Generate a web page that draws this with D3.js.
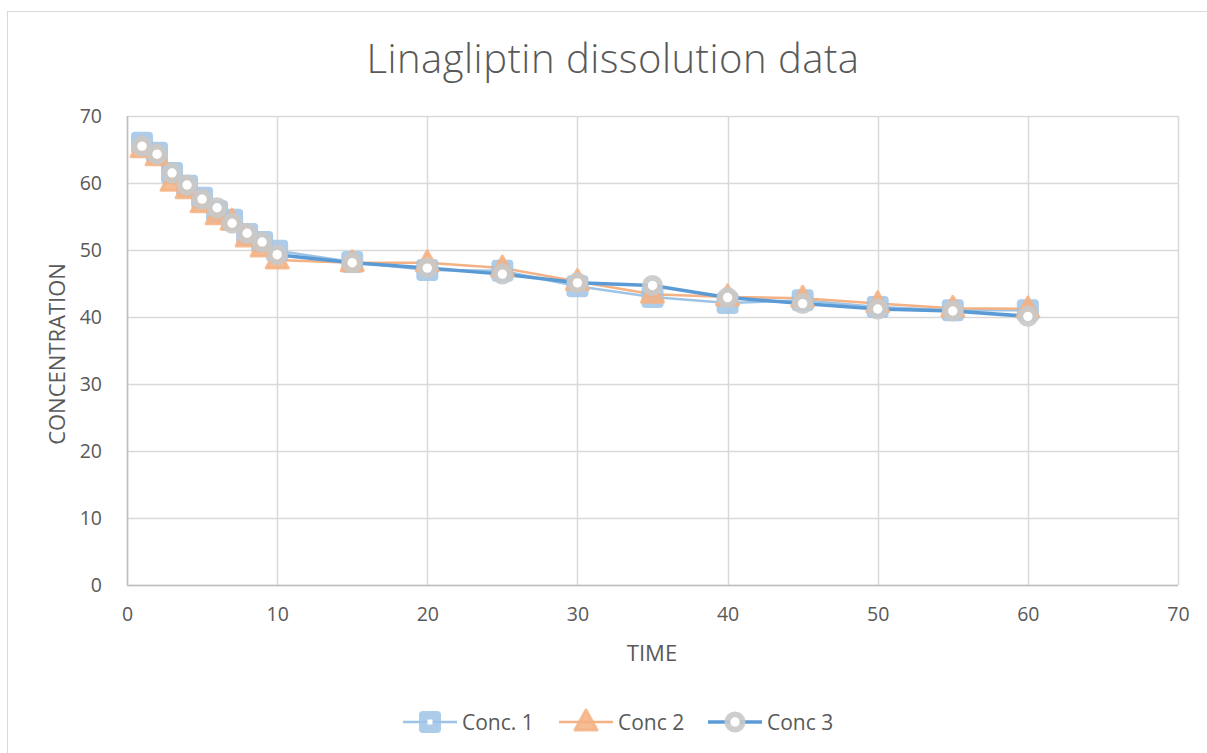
<!DOCTYPE html>
<html><head><meta charset="utf-8">
<script src="https://cdn.jsdelivr.net/npm/d3@7"></script>
<style>body{margin:0;background:#fff;}svg{display:block;font-family:"Open Sans","Noto Sans",sans-serif;}</style>
</head><body><svg id="c" width="1207" height="753"></svg>
<script>
const times = [1,2,3,4,5,6,7,8,9,10,15,20,25,30,35,40,45,50,55,60];
const conc1 = [66.0,64.5,61.5,59.6,57.8,55.8,54.5,52.4,51.2,49.9,48.2,47.0,46.9,44.6,43.0,42.1,42.5,41.5,41.0,41.0];
const conc2 = [65.1,63.9,60.1,59.0,56.9,55.1,54.3,51.8,50.3,48.5,48.1,48.1,47.3,45.3,43.4,43.0,42.8,42.0,41.3,41.2];
const conc3 = [65.5,64.3,61.5,59.7,57.6,56.3,54.0,52.5,51.2,49.3,48.1,47.3,46.4,45.1,44.7,42.9,42.0,41.2,40.9,40.1];
const seriesNames = ["Conc. 1","Conc 2","Conc 3"];
const xTicks = [0,10,20,30,40,50,60,70];
const yTicks = [0,10,20,30,40,50,60,70];

const svg = d3.select("#c");
const x = d3.scaleLinear().domain([0,70]).range([127,1178]);
const y = d3.scaleLinear().domain([0,70]).range([585,116]);
const txt = "#595959", grid = "#d9d9d9";

svg.append("rect").attr("x",7.5).attr("y",11.5).attr("width",1205).attr("height",760)
  .attr("fill","#fff").attr("stroke","#d9d9d9");

// grid
svg.append("g").selectAll("line").data(yTicks).join("line")
  .attr("x1",x(0)).attr("x2",x(70)).attr("y1",d=>Math.round(y(d))+0.5).attr("y2",d=>Math.round(y(d))+0.5)
  .attr("stroke",grid).attr("stroke-width",1.5);
svg.append("g").selectAll("line").data(xTicks).join("line")
  .attr("y1",y(0)).attr("y2",y(70)).attr("x1",d=>Math.round(x(d))+0.5).attr("x2",d=>Math.round(x(d))+0.5)
  .attr("stroke",grid).attr("stroke-width",1.5);
svg.append("line").attr("x1",x(0)).attr("x2",x(70)).attr("y1",y(0)+0.5).attr("y2",y(0)+0.5).attr("stroke","#bfbfbf").attr("stroke-width",1.5);
svg.append("line").attr("x1",x(0)+0.5).attr("x2",x(0)+0.5).attr("y1",y(0)).attr("y2",y(70)).attr("stroke","#bfbfbf").attr("stroke-width",1.5);

// axes via d3
const xAxis = svg.append("g").attr("transform",`translate(0,${y(0)})`)
  .call(d3.axisBottom(x).tickValues(xTicks).tickSize(0).tickPadding(22));
const yAxis = svg.append("g").attr("transform",`translate(${x(0)},0)`)
  .call(d3.axisLeft(y).tickValues(yTicks).tickSize(0).tickPadding(25));
[xAxis,yAxis].forEach(a=>{a.select(".domain").remove();
  a.selectAll("text").attr("fill",txt).attr("font-size",19.5).attr("font-family","'Open Sans',sans-serif");});

svg.append("text").attr("x",613).attr("y",73).attr("text-anchor","middle").attr("fill",txt)
  .attr("font-size",40).attr("font-weight",300).attr("letter-spacing",0.5).text("Linagliptin dissolution data");
svg.append("text").attr("x",652).attr("y",661).attr("text-anchor","middle").attr("fill",txt)
  .attr("font-size",22).text("TIME");
svg.append("text").attr("transform","translate(65,354) rotate(-90)").attr("text-anchor","middle").attr("fill",txt)
  .attr("font-size",22).text("CONCENTRATION");

const data = [conc1,conc2,conc3];
const lineCol = ["#9dc3e6","#f4b183","#5b9bd5"];
const lineW = [2.5,2.5,3.5];
const markCol = ["#9dc3e6","#f4b183","#c9c9c9"];
const line = d3.line().x((d,i)=>x(times[i])).y(d=>y(d));

function marker(g,k){
  if(k===0){
    g.append("rect").attr("x",-11).attr("y",-11).attr("width",22).attr("height",22).attr("rx",4)
     .attr("fill",markCol[0]).attr("fill-opacity",0.85);
  } else if(k===1){
    g.append("path").attr("d","M0,-12 L11,8 L-11,8 Z").attr("fill",markCol[1]).attr("fill-opacity",0.85)
     .attr("stroke",markCol[1]).attr("stroke-opacity",0.85).attr("stroke-width",3).attr("stroke-linejoin","round");
  } else {
    g.append("circle").attr("r",10.5).attr("fill",markCol[2]).attr("fill-opacity",0.9);
    g.append("circle").attr("r",4.7).attr("fill","#fff");
  }
}

data.forEach((s,k)=>{
  svg.append("path").datum(s).attr("d",line).attr("fill","none").attr("stroke",lineCol[k]).attr("stroke-width",lineW[k])
    .attr("stroke-linejoin","round");
});
data.forEach((s,k)=>{
  svg.append("g").selectAll("g").data(s).join("g")
    .attr("transform",(d,i)=>`translate(${x(times[i])},${y(d)})`)
    .each(function(){marker(d3.select(this),k);});
});

// legend
const legX = [403,559,708];
seriesNames.forEach((n,k)=>{
  const g = svg.append("g").attr("transform",`translate(${legX[k]},722)`);
  g.append("line").attr("x1",0).attr("x2",54).attr("stroke",lineCol[k]).attr("stroke-width",lineW[k]);
  const m = g.append("g").attr("transform","translate(27,0)");
  marker(m,k);
  if(k===0) m.append("rect").attr("x",-2.5).attr("y",-2.5).attr("width",5).attr("height",5).attr("fill","#fff");
  g.append("text").attr("x",59).attr("y",7.5).attr("fill",txt).attr("font-size",21).text(n);
});
</script></body></html>
